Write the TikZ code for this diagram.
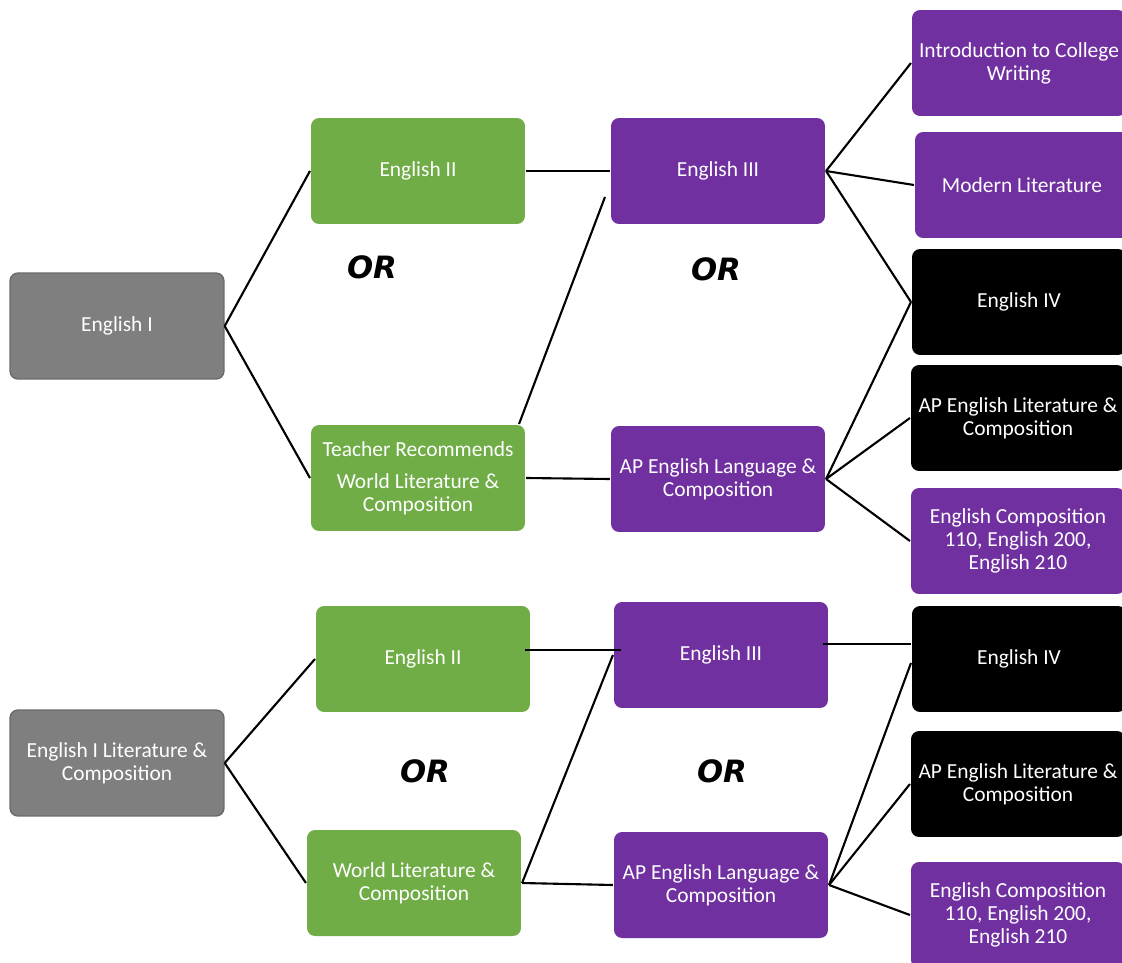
\documentclass[tikz,border=0pt]{standalone}
\usepackage{fontspec}
\setmainfont{Carlito}
\newfontfamily\orfont{DejaVu Sans}
\usetikzlibrary{calc}
\definecolor{boxgreen}{HTML}{70AD47}
\definecolor{boxpurple}{HTML}{7030A0}
\definecolor{boxgray}{HTML}{7F7F7F}
\definecolor{edgegray}{HTML}{6A6A6A}

\begin{document}
\begin{tikzpicture}[x=0.02cm,y=-0.02cm,line width=1.2pt,
  box/.style={rounded corners=0.16cm,minimum width=4.28cm,minimum height=2.12cm,
    text=white,align=center,inner sep=2pt,font=\fontsize{12.2}{13.2}\selectfont},
  ybox/.style={box,fill=boxgray,draw=edgegray,line width=0.8pt},
  gbox/.style={box,fill=boxgreen},
  pbox/.style={box,fill=boxpurple},
  kbox/.style={box,fill=black},
  orlabel/.style={font=\orfont\bfseries\itshape\fontsize{17.5}{20}\selectfont}]
\useasboundingbox (0,0) rectangle (1122,963);

% upper path
\node[ybox] (e1) at (117,326) {English I};
\node[gbox] (e2) at (418,171) {English II};
\node[gbox] (tr) at (418,478) {Teacher Recommends\\[5pt]World Literature \&\\Composition};
\node[pbox] (e3) at (718,171) {English III};
\node[pbox] (ap) at (718,479) {AP English Language \&\\Composition};
\node[pbox] (icw) at (1019,63) {Introduction to College\\Writing};
\node[pbox] (ml) at (1022,185) {Modern Literature};
\node[kbox] (e4) at (1019,302) {English IV};
\node[kbox] (apl) at (1018,418) {AP English Literature \&\\Composition};
\node[pbox] (ec) at (1018,541) {English Composition\\110, English 200,\\English 210};
\node[orlabel] (or1) at (372,267) {OR};
\node[orlabel] (or2) at (716,269) {OR};

\draw (e1.east) -- (e2.west);
\draw (e1.east) -- (tr.west);
\draw (e2.east) -- (e3.west);
\draw ($(tr.north east)+(-7,0)$) -- ($(e3.west)+(-5,26)$);
\draw (tr.east) -- (ap.west);
\draw (e3.east) -- (icw.west);
\draw (e3.east) -- (ml.west);
\draw (e3.east) -- (e4.west);
\draw (ap.east) -- (e4.west);
\draw (ap.east) -- (apl.west);
\draw (ap.east) -- (ec.west);

% lower path
\node[ybox] (f1) at (117,763) {English I Literature \&\\Composition};
\node[gbox] (f2) at (423,659) {English II};
\node[gbox] (wl) at (414,883) {World Literature \&\\Composition};
\node[pbox] (f3) at (721,655) {English III};
\node[pbox] (fap) at (721,885) {AP English Language \&\\Composition};
\node[kbox] (f4) at (1019,659) {English IV};
\node[kbox] (fapl) at (1018,784) {AP English Literature \&\\Composition};
\node[pbox] (fec) at (1018,915) {English Composition\\110, English 200,\\English 210};
\node[orlabel] (or3) at (425,771) {OR};
\node[orlabel] (or4) at (722,771) {OR};

\draw (f1.east) -- (f2.west);
\draw (f1.east) -- (wl.west);
\draw ($(f2.east)+(-6,-9)$) -- ($(f3.west)+(8,-5)$);
\draw (wl.east) -- (f3.west);
\draw (wl.east) -- (fap.west);
\draw ($(f3.east)+(-6,-11)$) -- ($(f4.west)+(0,-15)$);
\draw (fap.east) -- ($(f4.west)+(0,4)$);
\draw (fap.east) -- (fapl.west);
\draw (fap.east) -- (fec.west);
\end{tikzpicture}
\end{document}
